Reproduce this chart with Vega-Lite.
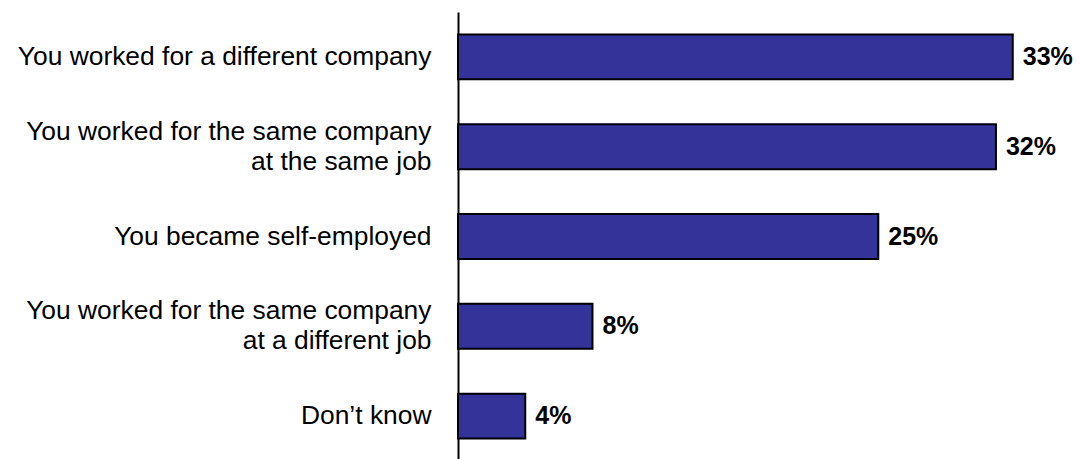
{
  "$schema": "https://vega.github.io/schema/vega-lite/v6.json",
  "width": 622,
  "height": 449,
  "autosize": {"type": "none"},
  "padding": {"left": 458, "top": 12, "right": 1, "bottom": 0},
  "background": "white",
  "config": {"view": {"stroke": null}},
  "data": {
    "values": [
      {"category": "You worked for a different company", "value": 0.33},
      {"category": "You worked for the same company|at the same job", "value": 0.32},
      {"category": "You became self-employed", "value": 0.25},
      {"category": "You worked for the same company|at a different job", "value": 0.08},
      {"category": "Don’t know", "value": 0.04}
    ]
  },
  "encoding": {
    "y": {
      "field": "category",
      "type": "nominal",
      "sort": null,
      "scale": {"paddingInner": 0.5, "paddingOuter": 0.25},
      "axis": {
        "title": null,
        "domain": true,
        "domainColor": "black",
        "domainWidth": 2,
        "ticks": false,
        "grid": false,
        "labelFont": "Liberation Sans",
        "labelFontSize": 26.4,
        "labelColor": "black",
        "labelPadding": 27,
        "labelLimit": 0,
        "labelLineHeight": 30,
        "labelOffset": {"condition": {"test": "indexof(datum.value, '|') >= 0", "value": -15}, "value": 0},
        "labelExpr": "split(datum.value, '|')"
      }
    },
    "x": {
      "field": "value",
      "type": "quantitative",
      "scale": {"domain": [0, 0.37]},
      "axis": null
    }
  },
  "layer": [
    {"mark": {"type": "bar", "color": "#333399", "stroke": "black", "strokeWidth": 2}},
    {
      "mark": {"type": "text", "align": "left", "baseline": "middle", "dx": 10, "font": "Liberation Sans", "fontSize": 25, "fontWeight": "bold", "color": "black"},
      "encoding": {"text": {"field": "value", "type": "quantitative", "format": ".0%"}}
    }
  ]
}
